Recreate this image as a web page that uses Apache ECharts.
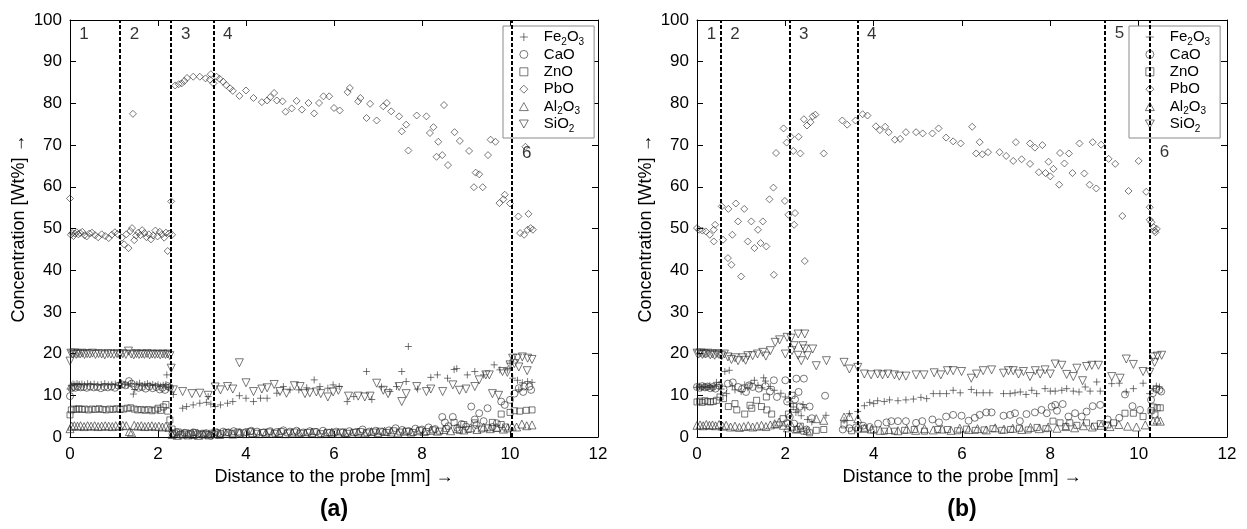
<!DOCTYPE html>
<html><head><meta charset="utf-8">
<script src="https://cdn.jsdelivr.net/npm/echarts@6/dist/echarts.min.js"></script>
<style>html,body{margin:0;padding:0;background:#fff}#c{width:1247px;height:529px}</style>
</head><body><div id="c"></div>
<script>
// ---------- data ----------
const seriesNames = ['Fe2O3', 'CaO', 'ZnO', 'PbO', 'Al2O3', 'SiO2'];
const xRange = [0, 12, 2];
const yRange = [0, 100, 10];
const xTitle = 'Distance to the probe [mm] →';
const yTitle = 'Concentration [Wt%] →';
const panelTitles = ['(a)', '(b)'];

const boundsA = [1.14, 2.29, 3.26, 10.04];
const boundsB = [0.54, 2.09, 3.64, 9.23, 10.25];
const regionsA = [[0.21, 96.6, '1'], [1.36, 96.6, '2'], [2.52, 96.6, '3'], [3.48, 96.6, '4'], [10.27, 68.1, '6']];
const regionsB = [[0.22, 96.6, '1'], [0.75, 96.6, '2'], [2.31, 96.6, '3'], [3.85, 96.6, '4'], [9.46, 96.9, '5'], [10.48, 68.2, '6']];

const feA = [[0.0,11.5],[0.03,12.4],[0.07,12.7],[0.11,12.5],[0.16,12.8],[0.21,12.6],[0.27,12.7],[0.33,12.5],[0.4,12.8],[0.47,12.6],[0.55,12.7],[0.63,12.5],[0.71,12.6],[0.79,12.8],[0.87,12.5],[0.95,12.6],[1.03,12.7],[1.1,12.4],[1.17,12.9],[1.25,12.6],[1.32,12.4],[1.38,12.8],[1.44,10.3],[1.47,11.4],[1.52,12.6],[1.58,12.9],[1.64,12.3],[1.7,12.6],[1.76,12.8],[1.82,12.4],[1.88,12.6],[1.94,12.3],[2.0,12.5],[2.06,12.2],[2.12,12.4],[2.18,12.6],[2.2,14.9],[2.24,11.8],[2.28,12.0],
[2.35,10.2],[2.56,6.9],[2.65,7.3],[2.8,7.7],[2.95,8.1],[3.1,8.3],[3.14,9.7],[3.2,7.9],[3.3,7.3],[3.42,7.7],[3.58,8.1],[3.7,8.5],[3.85,9.9],[4.0,9.3],[4.17,8.5],[4.33,9.3],[4.48,9.3],[4.7,10.5],[4.85,12.1],[5.0,11.3],[5.2,11.3],[5.38,11.8],[5.55,13.7],[5.68,12.1],[5.86,11.7],[5.98,12.5],[6.12,12.1],[6.3,8.5],[6.45,9.7],[6.74,15.7],[6.86,9.0],[7.08,12.0],[7.27,10.9],[7.42,12.1],[7.54,15.7],[7.64,13.3],[7.69,21.7],[7.9,11.5],[8.2,14.3],[8.35,14.9],[8.58,14.1],[8.73,16.2],[8.79,16.4],[9.03,14.9],[9.2,15.7],[9.4,14.9],[9.64,17.3],[9.77,16.1],[9.94,16.1],[10.0,17.7],[10.06,14.1],[10.17,13.6],[10.2,11.3],[10.28,13.0],[10.4,13.3],[10.5,13.1]];

const caoA = [[0.0,9.8],[0.03,11.7],[0.07,12.0],[0.12,11.8],[0.18,12.1],[0.24,11.9],[0.31,12.0],[0.38,11.8],[0.46,12.1],[0.54,11.9],[0.62,12.0],[0.7,11.7],[0.78,12.0],[0.86,11.9],[0.94,12.1],[1.02,11.8],[1.1,12.3],[1.18,12.6],[1.26,12.4],[1.34,13.4],[1.4,12.8],[1.48,12.1],[1.56,11.8],[1.64,12.0],[1.72,11.6],[1.8,12.1],[1.88,11.7],[1.96,12.0],[2.04,11.4],[2.1,11.8],[2.16,11.3],[2.22,12.2],[2.27,11.9],
[2.33,0.8],[2.42,1.2],[2.5,0.6],[2.6,1.0],[2.7,0.7],[2.8,1.1],[2.9,0.8],[3.0,0.6],[3.1,0.9],[3.2,0.3],[3.28,0.7],[3.36,1.0],[3.48,1.3],[3.6,1.1],[3.72,1.4],[3.85,1.0],[4.0,1.2],[4.12,1.5],[4.25,1.3],[4.4,1.1],[4.55,1.4],[4.7,1.2],[4.85,1.6],[5.0,1.3],[5.15,1.5],[5.3,1.1],[5.45,1.4],[5.6,1.2],[5.75,1.5],[5.9,1.0],[6.05,1.3],[6.2,1.1],[6.35,1.4],[6.5,1.2],[6.65,1.8],[6.8,1.3],[6.95,1.5],[7.1,1.2],[7.25,1.6],[7.4,2.1],[7.55,1.7],[7.7,1.4],[7.85,2.0],[8.0,1.8],[8.15,2.3],[8.3,1.9],[8.46,4.8],[8.52,3.5],[8.6,2.6],[8.7,4.8],[8.8,2.2],[8.9,3.1],[9.0,2.5],[9.12,7.3],[9.2,4.2],[9.24,2.9],[9.3,5.7],[9.4,3.8],[9.49,6.9],[9.6,2.4],[9.7,3.3],[9.8,8.5],[9.88,7.7],[10.0,8.9],[10.1,10.4],[10.2,11.7],[10.3,10.8],[10.32,12.1],[10.44,12.1],[10.48,11.3]];

const znoA = [[0.0,5.3],[0.03,6.5],[0.08,6.7],[0.14,6.6],[0.2,6.8],[0.27,6.6],[0.34,6.7],[0.42,6.5],[0.5,6.7],[0.58,6.6],[0.66,6.8],[0.74,6.6],[0.82,6.5],[0.9,6.7],[0.98,6.6],[1.06,6.8],[1.14,6.6],[1.22,6.7],[1.3,6.9],[1.38,7.0],[1.46,6.7],[1.54,6.5],[1.62,6.6],[1.7,6.4],[1.78,6.6],[1.86,6.3],[1.94,6.5],[2.0,6.9],[2.06,6.4],[2.12,7.2],[2.18,7.8],[2.22,6.2],[2.27,4.1],
[2.32,1.9],[2.38,0.9],[2.46,1.2],[2.55,0.7],[2.64,1.0],[2.74,0.8],[2.84,1.1],[2.94,0.7],[3.04,0.9],[3.14,0.6],[3.22,0.9],[3.3,1.2],[3.42,0.8],[3.55,1.1],[3.68,0.9],[3.82,1.2],[3.96,1.0],[4.1,1.3],[4.24,0.9],[4.38,1.1],[4.52,1.2],[4.66,0.9],[4.8,1.3],[4.95,1.0],[5.1,1.2],[5.25,0.9],[5.4,1.1],[5.55,1.3],[5.7,0.8],[5.85,1.1],[6.0,1.0],[6.15,1.2],[6.3,0.9],[6.45,1.1],[6.6,1.3],[6.75,1.0],[6.9,1.2],[7.05,1.4],[7.2,1.1],[7.35,1.5],[7.5,1.2],[7.65,1.4],[7.8,1.1],[7.95,1.6],[8.1,1.3],[8.25,1.7],[8.4,1.4],[8.55,2.0],[8.73,3.5],[8.85,1.6],[8.95,3.0],[9.05,1.8],[9.2,3.4],[9.35,1.9],[9.5,2.2],[9.6,3.5],[9.7,2.1],[9.8,3.0],[9.8,5.5],[9.9,2.4],[10.0,5.9],[10.1,6.3],[10.22,6.2],[10.37,6.4],[10.5,6.5]];

const pboA = [[0.0,57.2],[0.02,48.5],[0.05,48.9],[0.08,48.2],[0.11,48.8],[0.15,49.1],[0.19,48.6],[0.23,48.9],[0.28,49.2],[0.33,48.4],[0.38,48.1],[0.44,48.8],[0.5,49.0],[0.57,48.4],[0.64,47.9],[0.72,48.6],[0.8,48.2],[0.88,47.7],[0.95,48.5],[1.02,49.1],[1.08,48.7],
[1.18,47.8],[1.23,46.2],[1.28,48.6],[1.33,45.3],[1.37,49.4],[1.41,50.1],[1.43,77.5],[1.46,47.2],[1.5,48.3],[1.55,49.0],[1.6,48.4],[1.64,49.6],[1.69,48.9],[1.74,47.9],[1.79,48.6],[1.84,47.4],[1.89,48.3],[1.94,49.5],[1.99,48.1],[2.04,49.2],[2.09,48.6],[2.14,47.8],[2.18,49.0],[2.22,44.6],[2.25,48.8],[2.3,56.5],[2.32,48.5],
[2.39,84.3],[2.47,84.6],[2.54,84.8],[2.6,85.4],[2.66,86.1],[2.8,86.4],[2.95,86.4],[3.08,86.0],[3.18,85.7],[3.2,87.0],[3.26,84.8],
[3.33,86.4],[3.4,85.9],[3.48,85.2],[3.55,84.4],[3.64,83.6],[3.7,83.0],[3.85,81.8],[4.0,83.1],[4.17,81.3],[4.36,80.3],[4.48,80.7],[4.55,81.5],[4.64,82.5],[4.7,80.7],[4.83,80.5],[4.9,78.0],[5.04,78.8],[5.15,80.6],[5.27,78.5],[5.42,80.1],[5.55,77.6],[5.66,80.1],[5.76,81.7],[5.89,81.7],[6.0,78.9],[6.13,78.3],[6.31,82.7],[6.36,83.7],[6.55,80.5],[6.6,81.3],[6.74,76.5],[6.82,79.9],[6.97,75.9],[7.12,79.3],[7.2,80.1],[7.3,78.1],[7.48,76.9],[7.54,73.3],[7.64,74.9],[7.69,68.7],[7.88,77.1],[8.1,76.9],[8.18,72.9],[8.26,74.3],[8.33,67.2],[8.37,70.8],[8.46,67.6],[8.5,79.6],[8.59,65.2],[8.74,73.1],[8.86,71.0],[9.07,68.6],[9.18,59.9],[9.22,63.4],[9.3,63.0],[9.38,59.9],[9.5,67.6],[9.56,71.3],[9.67,70.8],[9.76,56.1],[9.85,57.0],[9.88,58.1],
[10.0,56.0],[10.19,52.9],[10.23,48.9],[10.32,48.5],[10.35,69.6],[10.4,49.7],[10.42,53.5],[10.47,50.1],[10.52,49.7]];

const alA = [[0.0,2.0],[0.04,2.6],[0.1,2.7],[0.17,2.6],[0.24,2.7],[0.32,2.5],[0.4,2.7],[0.48,2.6],[0.56,2.7],[0.64,2.5],[0.72,2.6],[0.8,2.7],[0.88,2.6],[0.96,2.5],[1.04,2.7],[1.12,2.6],[1.2,2.8],[1.28,2.7],[1.35,1.3],[1.4,1.0],[1.46,2.8],[1.54,2.6],[1.62,2.7],[1.7,2.5],[1.78,2.6],[1.86,2.7],[1.94,2.5],[2.02,2.6],[2.1,2.4],[2.18,2.6],[2.25,2.3],
[2.32,0.6],[2.44,0.4],[2.56,0.7],[2.68,0.5],[2.8,0.6],[2.92,0.4],[3.04,0.7],[3.16,0.5],[3.28,0.8],[3.4,0.6],[3.55,0.9],[3.7,0.7],[3.85,1.0],[4.0,0.8],[4.15,1.1],[4.3,0.8],[4.45,1.0],[4.6,0.9],[4.75,1.1],[4.9,0.8],[5.05,1.0],[5.2,1.2],[5.35,0.9],[5.5,1.1],[5.65,0.8],[5.8,1.0],[5.95,1.2],[6.1,0.9],[6.25,1.1],[6.4,0.9],[6.55,1.2],[6.7,1.0],[6.85,1.3],[7.0,1.1],[7.15,1.4],[7.3,1.2],[7.45,1.0],[7.6,1.4],[7.75,1.2],[7.9,1.5],[8.05,1.3],[8.2,1.6],[8.35,1.4],[8.5,1.8],[8.65,1.5],[8.8,2.0],[8.95,1.7],[9.1,2.2],[9.25,1.8],[9.4,2.4],[9.55,2.0],[9.7,2.3],[9.85,1.9],[9.95,2.2],[10.05,2.6],[10.15,2.4],[10.27,3.1],[10.38,2.7],[10.5,2.9]];

const sioA = [[0.0,18.2],[0.02,20.1],[0.06,19.9],[0.1,20.2],[0.14,19.8],[0.18,20.0],[0.23,19.9],[0.28,20.1],[0.33,19.8],[0.39,20.0],[0.45,19.9],[0.51,20.1],[0.58,19.8],[0.65,20.0],[0.72,19.9],[0.79,19.7],[0.86,20.0],[0.93,19.9],[1.0,19.8],[1.07,20.0],[1.13,19.7],[1.2,20.0],[1.27,19.8],[1.33,20.6],[1.39,19.9],[1.45,19.7],[1.51,20.0],[1.57,19.8],[1.63,19.9],[1.69,19.8],[1.75,20.0],[1.81,19.7],[1.87,19.9],[1.93,19.8],[1.99,19.9],[2.05,19.7],[2.11,19.9],[2.17,19.8],[2.22,19.9],[2.27,19.5],[2.3,16.5],
[2.35,11.3],[2.56,10.9],[2.77,10.4],[2.95,10.5],[3.14,10.0],[3.3,12.0],[3.42,11.3],[3.58,12.1],[3.7,11.5],[3.85,17.8],[4.0,13.0],[4.17,10.9],[4.36,11.5],[4.48,11.8],[4.64,12.6],[4.77,10.9],[4.92,10.5],[5.1,12.3],[5.23,12.1],[5.34,10.4],[5.45,10.6],[5.6,10.8],[5.7,10.4],[5.86,9.6],[5.98,10.8],[6.1,11.2],[6.33,9.8],[6.55,9.8],[6.7,9.6],[6.82,9.8],[6.97,12.9],[7.12,11.2],[7.23,10.4],[7.48,12.1],[7.54,8.5],[7.64,10.4],[7.88,12.1],[8.1,10.9],[8.2,11.5],[8.47,10.9],[8.7,12.5],[8.85,11.2],[9.0,11.5],[9.2,12.1],[9.3,13.7],[9.45,14.9],[9.53,14.9],[9.6,10.4],[9.74,10.0],[9.83,15.7],[9.94,15.5],[10.0,17.3],[10.06,18.9],[10.1,17.6],[10.17,18.9],[10.2,16.8],[10.28,19.2],[10.39,15.9],[10.4,18.9],[10.5,18.6]];

const feB = [[0.0,11.9],[0.05,12.2],[0.1,11.8],[0.15,12.1],[0.2,11.9],[0.25,12.0],[0.29,12.3],[0.34,11.8],[0.39,12.1],[0.44,13.1],[0.5,12.6],[0.55,11.5],[0.63,15.7],[0.67,10.4],[0.73,16.0],[0.8,12.2],[0.86,11.3],[1.0,10.9],[1.08,12.5],[1.15,11.8],[1.22,12.9],[1.3,13.6],[1.38,12.4],[1.47,11.8],[1.51,14.2],[1.55,13.4],[1.66,12.1],[1.75,11.2],[1.9,10.5],[2.0,9.6],[2.1,8.4],[2.18,7.2],[2.24,5.9],[2.29,6.2],[2.36,5.1],[2.4,7.8],[2.44,7.0],[2.5,4.2],[2.6,3.6],[2.92,5.2],[3.33,4.0],[3.45,5.6],[3.64,6.1],[3.79,7.5],[3.91,8.3],[4.0,8.0],[4.09,8.7],[4.24,8.5],[4.36,8.9],[4.55,8.7],[4.73,8.9],[4.9,9.1],[5.07,9.5],[5.2,9.2],[5.35,10.4],[5.5,10.4],[5.65,10.4],[5.8,11.2],[5.96,10.6],[6.21,11.4],[6.33,10.6],[6.48,10.6],[6.63,10.6],[6.94,10.4],[7.09,10.4],[7.2,10.6],[7.32,10.8],[7.45,10.2],[7.58,11.2],[7.69,10.4],[7.88,11.6],[8.0,11.0],[8.11,11.0],[8.26,11.2],[8.37,11.6],[8.52,11.0],[8.65,10.8],[8.79,12.0],[8.9,11.0],[9.05,13.2],[9.13,11.0],[9.39,12.8],[9.56,12.9],[9.72,10.8],[9.88,11.6],[10.1,12.9],[10.25,10.4],[10.33,11.6],[10.4,12.2],[10.47,12.0]];

const caoB = [[0.0,12.0],[0.06,11.8],[0.12,12.2],[0.18,11.9],[0.24,12.1],[0.3,11.7],[0.36,12.0],[0.42,11.6],[0.5,12.3],[0.6,11.4],[0.7,12.8],[0.81,13.1],[0.93,12.0],[1.02,11.5],[1.11,10.8],[1.18,12.4],[1.26,12.0],[1.4,11.6],[1.55,12.2],[1.65,10.9],[1.74,13.6],[1.81,9.6],[2.0,13.6],[2.04,8.5],[2.1,4.8],[2.2,3.2],[2.22,9.0],[2.25,14.0],[2.3,10.8],[2.33,7.3],[2.42,14.0],[2.48,1.8],[2.55,7.3],[2.6,4.5],[2.9,9.9],[3.3,1.8],[3.45,2.1],[3.6,2.3],[3.76,2.7],[3.91,2.4],[4.1,3.2],[4.29,3.5],[4.4,3.8],[4.55,3.8],[4.73,3.8],[4.96,3.4],[5.1,3.8],[5.33,4.2],[5.48,3.5],[5.64,4.9],[5.8,5.3],[5.99,5.1],[6.15,3.9],[6.29,4.6],[6.4,5.3],[6.55,5.9],[6.67,5.9],[6.94,5.1],[7.09,5.3],[7.2,5.7],[7.31,3.8],[7.46,5.5],[7.65,5.9],[7.8,6.5],[7.92,5.7],[8.03,7.3],[8.11,7.7],[8.15,6.3],[8.28,7.9],[8.41,4.9],[8.56,5.7],[8.71,4.9],[8.82,6.1],[8.96,7.4],[9.13,7.7],[9.3,4.2],[9.56,4.6],[9.69,10.2],[9.86,7.4],[10.03,6.5],[10.28,8.9],[10.32,10.5],[10.4,11.5],[10.47,11.3],[10.51,10.9]];

const znoB = [[0.0,8.4],[0.06,8.6],[0.12,8.3],[0.18,8.7],[0.24,8.5],[0.3,8.4],[0.37,8.5],[0.44,8.8],[0.52,9.6],[0.6,9.2],[0.71,7.3],[0.86,8.0],[0.9,6.5],[1.08,5.5],[1.2,7.6],[1.24,6.9],[1.35,8.8],[1.46,7.3],[1.57,9.6],[1.58,6.5],[1.69,5.5],[1.81,2.9],[1.95,4.4],[2.04,3.3],[2.07,5.5],[2.15,10.0],[2.19,7.3],[2.26,1.8],[2.34,2.6],[2.42,1.4],[2.55,1.0],[2.7,1.6],[2.87,1.8],[3.33,2.9],[3.5,1.5],[3.65,1.9],[3.79,2.1],[4.0,1.7],[4.24,1.4],[4.47,1.4],[4.7,1.6],[4.92,1.8],[5.15,1.4],[5.45,1.8],[5.67,1.8],[5.9,1.5],[6.1,1.9],[6.3,1.6],[6.5,1.7],[6.7,2.0],[6.9,1.6],[7.1,1.8],[7.3,2.1],[7.5,1.7],[7.7,2.3],[7.9,2.0],[8.06,3.8],[8.22,3.4],[8.35,2.5],[8.44,3.4],[8.6,2.8],[8.82,3.4],[9.0,2.6],[9.13,3.2],[9.3,2.9],[9.43,3.4],[9.69,5.7],[9.88,5.7],[10.1,4.9],[10.28,6.3],[10.33,7.2],[10.37,5.3],[10.42,7.0],[10.49,7.0]];

const pboB = [[0.0,50.1],[0.05,49.7],[0.12,49.5],[0.2,49.3],[0.29,48.5],[0.38,49.7],[0.38,46.9],[0.41,50.9],[0.56,55.3],[0.59,47.3],[0.7,42.9],[0.71,54.7],[0.78,41.3],[0.8,48.5],[0.88,56.0],[0.93,51.7],[1.0,38.5],[1.07,54.7],[1.15,46.9],[1.23,51.7],[1.3,45.3],[1.38,49.7],[1.44,46.5],[1.49,51.7],[1.57,45.7],[1.64,57.0],[1.73,59.8],[1.74,38.9],[1.79,68.1],[1.96,74.0],[1.99,56.6],[2.03,70.6],[2.07,53.3],[2.12,72.0],[2.18,68.6],[2.2,50.9],[2.22,53.7],[2.3,72.0],[2.34,68.0],[2.42,76.2],[2.44,42.2],[2.49,74.7],[2.57,75.5],[2.62,76.9],[2.68,77.3],[2.87,68.0],[3.29,75.9],[3.4,74.9],[3.59,75.9],
[3.75,77.4],[3.86,77.1],[4.05,74.5],[4.14,73.6],[4.26,74.4],[4.34,73.1],[4.48,71.3],[4.6,71.5],[4.73,73.1],[4.96,73.1],[5.11,72.8],[5.33,72.8],[5.47,74.0],[5.64,71.8],[5.8,70.9],[5.97,70.4],[6.23,74.4],[6.32,68.0],[6.4,70.7],[6.46,67.8],[6.59,68.3],[6.85,68.3],[7.0,67.4],[7.16,66.2],[7.22,70.7],[7.35,66.6],[7.54,65.5],[7.54,70.4],[7.65,69.4],[7.74,63.5],[7.82,70.0],[7.89,63.3],[7.96,66.0],[8.0,62.5],[8.07,64.3],[8.2,60.5],[8.22,68.1],[8.32,65.6],[8.42,68.0],[8.5,63.3],[8.66,70.4],[8.77,63.2],[8.89,60.5],[8.96,70.7],[9.04,59.6],[9.15,70.1],[9.32,66.7],[9.47,65.5],[9.63,53.0],[9.77,59.0],[10.0,66.2],[10.17,58.8],[10.25,55.1],[10.25,52.1],[10.29,51.5],[10.34,50.3],[10.36,49.5],[10.38,49.1],[10.41,49.9]];

const alB = [[0.0,2.8],[0.07,2.9],[0.14,2.7],[0.21,3.0],[0.28,2.8],[0.35,2.9],[0.42,2.7],[0.5,3.0],[0.58,2.6],[0.66,2.8],[0.76,2.4],[0.86,2.6],[0.96,2.3],[1.06,2.5],[1.16,2.7],[1.26,2.4],[1.36,2.6],[1.46,2.8],[1.56,2.5],[1.66,2.9],[1.76,3.2],[1.86,3.6],[1.96,2.8],[2.05,2.2],[2.15,2.6],[2.25,1.9],[2.35,2.3],[2.5,1.6],[2.7,4.4],[2.87,4.0],[3.33,4.8],[3.45,4.9],[3.64,4.4],[3.79,2.1],[3.95,1.9],[4.15,1.6],[4.35,1.8],[4.55,1.5],[4.75,1.9],[4.95,1.6],[5.15,2.0],[5.35,1.7],[5.55,1.9],[5.75,1.6],[5.95,2.1],[6.15,1.8],[6.35,2.0],[6.55,1.7],[6.75,2.2],[6.95,1.9],[7.15,2.1],[7.35,1.8],[7.55,2.3],[7.75,2.0],[7.95,2.4],[8.15,2.1],[8.35,2.5],[8.55,2.2],[8.75,2.7],[8.95,2.4],[9.15,2.8],[9.35,2.5],[9.55,3.0],[9.75,2.6],[9.95,2.4],[10.15,2.9],[10.33,3.8],[10.42,4.1],[10.49,3.8]];

const sioB = [[0.0,20.1],[0.04,19.9],[0.08,20.2],[0.12,19.8],[0.16,20.0],[0.2,19.9],[0.25,20.1],[0.3,19.7],[0.35,19.9],[0.4,19.6],[0.45,20.0],[0.5,19.8],[0.56,19.5],[0.62,19.9],[0.7,19.2],[0.78,18.6],[0.86,19.0],[0.93,18.3],[1.04,19.0],[1.1,18.4],[1.15,19.5],[1.26,19.5],[1.37,19.9],[1.49,20.3],[1.56,19.4],[1.66,20.7],[1.77,22.7],[1.87,23.3],[2.0,19.9],[2.04,23.9],[2.13,23.7],[2.15,20.7],[2.2,21.9],[2.29,19.6],[2.29,24.7],[2.36,18.3],[2.4,21.9],[2.44,21.1],[2.44,24.7],[2.5,19.5],[2.62,21.1],[2.7,17.1],[2.93,18.3],[3.33,17.9],[3.45,16.3],[3.64,16.7],[3.79,15.1],[3.94,14.9],[4.09,15.1],[4.2,14.9],[4.32,15.1],[4.47,14.9],[4.58,14.6],[4.73,14.6],[4.96,14.9],[5.14,14.9],[5.37,15.4],[5.52,14.9],[5.67,15.9],[5.8,15.9],[5.99,15.7],[6.21,14.1],[6.33,15.1],[6.48,15.9],[6.67,16.1],[6.94,15.3],[7.05,15.9],[7.16,15.9],[7.28,15.1],[7.39,15.7],[7.54,14.5],[7.66,15.9],[7.77,15.1],[7.88,16.1],[8.0,15.1],[8.11,17.5],[8.26,17.2],[8.37,15.0],[8.52,14.5],[8.6,16.5],[8.73,13.5],[8.82,16.9],[8.94,17.2],[9.09,17.2],[9.39,14.5],[9.58,14.1],[9.72,18.7],[9.88,17.4],[10.1,15.7],[10.25,15.5],[10.33,19.2],[10.36,17.9],[10.42,19.4],[10.52,19.6]];

const panelA = [feA, caoA, znoA, pboA, alA, sioA];
const panelB = [feB, caoB, znoB, pboB, alB, sioB];

// ---------- styling ----------
const FONT = '"Liberation Sans", Arial, Helvetica, sans-serif';
const symbols = [
  'path://M5,0L5,10M0,5L10,5',
  'circle',
  'path://M0,0L10,0L10,10L0,10Z',
  'path://M5,0L10,5L5,10L0,5Z',
  'path://M5,0L10,9L0,9Z',
  'path://M0,0L10,0L5,9Z'
];
const symbolSizes = [7, 7, 6, 7, 8, 8];
const markerStyle = {color: 'rgba(0,0,0,0)', borderColor: '#2a2a2a', borderWidth: 0.8};

const grids = [
  {left: 70, top: 20, width: 528, height: 417},
  {left: 697, top: 20, width: 530, height: 417}
];

function xAxisFor(gi, top) {
  return {
    type: 'value', gridIndex: gi, min: xRange[0], max: xRange[1], interval: xRange[2],
    position: top ? 'top' : 'bottom',
    axisLine: {show: true, onZero: false, lineStyle: {color: '#000', width: 1}},
    axisTick: {show: true, inside: true, length: 6, lineStyle: {color: '#000', width: 1}},
    axisLabel: {show: !top, fontSize: 17, color: '#000', fontFamily: FONT, margin: 9},
    splitLine: {show: false},
    name: top ? '' : xTitle, nameLocation: 'middle', nameGap: 24,
    nameTextStyle: {fontSize: 18, color: '#000', fontFamily: FONT}
  };
}
function yAxisFor(gi, right) {
  return {
    type: 'value', gridIndex: gi, min: yRange[0], max: yRange[1], interval: yRange[2],
    position: right ? 'right' : 'left',
    axisLine: {show: true, onZero: false, lineStyle: {color: '#000', width: 1}},
    axisTick: {show: true, inside: true, length: 6, lineStyle: {color: '#000', width: 1}},
    axisLabel: {show: !right, fontSize: 17, color: '#000', fontFamily: FONT, margin: 8},
    splitLine: {show: false},
    name: right ? '' : yTitle, nameLocation: 'middle', nameGap: 42,
    nameTextStyle: {fontSize: 18, color: '#000', fontFamily: FONT}
  };
}

const series = [];
[panelA, panelB].forEach((panel, pi) => {
  panel.forEach((data, si) => {
    const s = {
      type: 'scatter', name: seriesNames[si],
      xAxisIndex: pi * 2, yAxisIndex: pi * 2,
      data: data, symbol: symbols[si], symbolSize: symbolSizes[si],
      itemStyle: markerStyle,
      emphasis: {disabled: true}, silent: true, z: 2
    };
    if (si === 3) {
      s.markLine = {
        silent: true, symbol: ['none', 'none'], animation: false,
        label: {show: false},
        lineStyle: {color: '#000', type: [4, 2], width: 2},
        emphasis: {disabled: true},
        data: (pi === 0 ? boundsA : boundsB).map(v => ({xAxis: v}))
      };
    }
    series.push(s);
  });
  series.push({
    type: 'scatter', name: 'regions' + pi, xAxisIndex: pi * 2, yAxisIndex: pi * 2,
    symbolSize: 0, silent: true, z: 5,
    data: (pi === 0 ? regionsA : regionsB).map(r => ({value: [r[0], r[1]], name: r[2]})),
    label: {show: true, position: 'right', distance: 0, formatter: '{b}', fontSize: 17,
            color: '#000', fontFamily: FONT, align: 'left', verticalAlign: 'middle'}
  });
});

function legendFor(left) {
  return {
    show: true, orient: 'vertical', left: left, top: 26,
    data: seriesNames.slice(),
    backgroundColor: '#fff', borderColor: '#8a8a8a', borderWidth: 1,
    padding: [1, 10, 4, 16], itemGap: -2.6, itemWidth: 30, itemHeight: 8,
    symbolKeepAspect: true,
    itemStyle: markerStyle,
    selectedMode: false,
    formatter: n => n.replace(/(\d)/g, '{s|$1}'),
    textStyle: {fontSize: 15, lineHeight: 20, color: '#000', fontFamily: FONT,
      rich: {s: {fontSize: 10, lineHeight: 8, verticalAlign: 'bottom', color: '#000', fontFamily: FONT}}}
  };
}

const option = {
  animation: false,
  backgroundColor: '#fff',
  title: panelTitles.map((t, i) => ({
    text: t, left: grids[i].left + grids[i].width / 2, top: 498, textAlign: 'center', padding: 0,
    textStyle: {fontSize: 23, fontWeight: 'bold', color: '#000', fontFamily: FONT}
  })),
  grid: grids,
  xAxis: [xAxisFor(0, false), xAxisFor(0, true), xAxisFor(1, false), xAxisFor(1, true)],
  yAxis: [yAxisFor(0, false), yAxisFor(0, true), yAxisFor(1, false), yAxisFor(1, true)],
  legend: [legendFor(503), legendFor(1129)],
  series: series
};

const chart = echarts.init(document.getElementById('c'), null, {renderer: 'canvas'});
chart.setOption(option);
</script>
</body></html>
